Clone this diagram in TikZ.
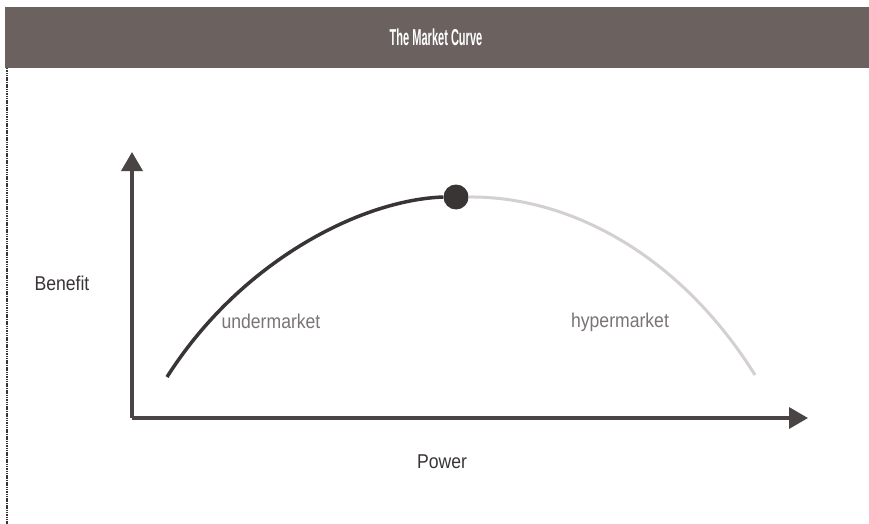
\documentclass[tikz,border=0pt]{standalone}
\usepackage{fontspec}
\setmainfont{Liberation Sans}[FakeStretch=0.88]
\newfontfamily\titlefont{Liberation Sans}[FakeStretch=0.48]
\usetikzlibrary{arrows.meta}
\definecolor{barc}{HTML}{6B6260}
\definecolor{axisc}{HTML}{4A4444}
\definecolor{lblc}{HTML}{7A7474}
\definecolor{darkc}{HTML}{3A3535}
\definecolor{lightc}{HTML}{D4D0D0}
\tikzset{
  axisline/.style={draw=axisc, line width=3.5pt, -{Triangle[length=19pt,width=21pt]}},
  lbl/.style={text=lblc, font=\fontsize{20}{22}\selectfont, inner sep=0pt},
  axlbl/.style={text=darkc, font=\fontsize{20}{22}\selectfont, inner sep=0pt},
}
\begin{document}
\begin{tikzpicture}[x=1pt,y=-1pt]
\useasboundingbox (0,0) rectangle (869,524);
\fill[white] (0,0) rectangle (869,524);
% title bar
\fill[barc] (5,7) rectangle (869,68);
\node[text=white, font=\titlefont\bfseries\fontsize{23}{25}\selectfont, inner sep=0pt] (title) at (436,37) {The Market Curve};
% left border
\draw[darkc, line width=2.5pt, dash pattern=on 1.5pt off 0.8pt] (7,68) -- (7,524);
% axes
\coordinate (origin) at (132,418);
\coordinate (ytip) at (132,152);
\coordinate (xtip) at (808,418);
\draw[axisline] (origin) -- (ytip);
\draw[axisline] (origin) -- (xtip);
% curve
\coordinate (cstart) at (167,377);
\coordinate (cend) at (755,375);
\node[circle, fill=darkc, minimum size=25pt, inner sep=0pt] (dot) at (456,197) {};
\draw[darkc, line width=3.5pt] (cstart) .. controls (240,262) and (360,200) .. (dot.west);
\draw[lightc, line width=3pt] (dot.east) .. controls (570,196) and (680,255) .. (cend);
% labels
\node[axlbl] (benefit) at (62,283) {Benefit};
\node[axlbl] (power) at (442,462) {Power};
\node[lbl] (under) at (271,321) {undermarket};
\node[lbl] (hyper) at (620,322) {hypermarket};
\end{tikzpicture}
\end{document}
